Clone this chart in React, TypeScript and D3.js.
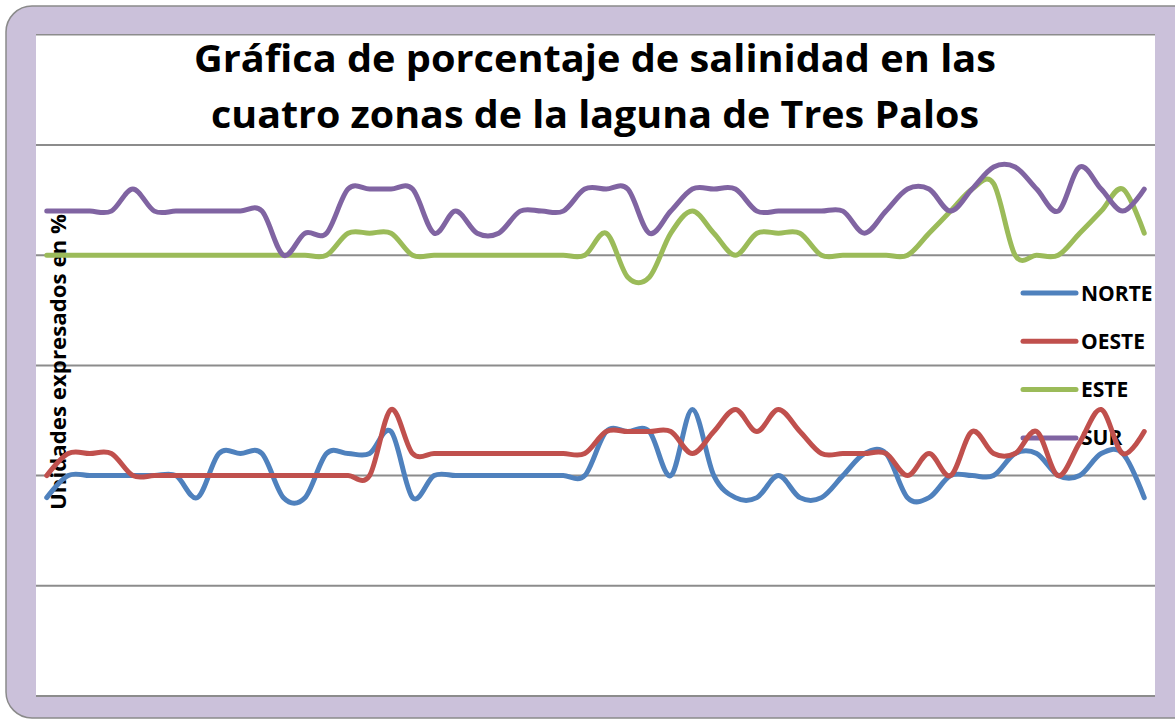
import React, { useEffect, useRef } from 'react';
import * as d3 from 'd3';

// 52 muestras a lo largo de la laguna (sin etiquetas en el eje)
const muestras = d3.range(1, 53);

const norte = [18, 20, 20, 20, 20, 20, 20, 18, 22, 22, 22, 18, 18, 22, 22, 22, 24, 18, 20, 20, 20, 20, 20, 20, 20, 20, 24, 24, 24, 20, 26, 20, 18, 18, 20, 18, 18, 20, 22, 22, 18, 18, 20, 20, 20, 22, 22, 20, 20, 22, 22, 18];
const oeste = [20, 22, 22, 22, 20, 20, 20, 20, 20, 20, 20, 20, 20, 20, 20, 20, 26, 22, 22, 22, 22, 22, 22, 22, 22, 22, 24, 24, 24, 24, 22, 24, 26, 24, 26, 24, 22, 22, 22, 22, 20, 22, 20, 24, 22, 22, 24, 20, 23, 26, 22, 24];
const este = [40, 40, 40, 40, 40, 40, 40, 40, 40, 40, 40, 40, 40, 40, 42, 42, 42, 40, 40, 40, 40, 40, 40, 40, 40, 40, 42, 38, 38, 42, 44, 42, 40, 42, 42, 42, 40, 40, 40, 40, 40, 42, 44, 46, 46.5, 40, 40, 40, 42, 44, 46, 42];
const sur = [44, 44, 44, 44, 46, 44, 44, 44, 44, 44, 44, 40, 42, 42, 46, 46, 46, 46, 42, 44, 42, 42, 44, 44, 44, 46, 46, 46, 42, 44, 46, 46, 46, 44, 44, 44, 44, 44, 42, 44, 46, 46, 44, 46, 48, 48, 46, 44, 48, 46, 44, 46];

const series = [
  { name: 'NORTE', values: norte, color: '#4F81BD' },
  { name: 'OESTE', values: oeste, color: '#C0504D' },
  { name: 'ESTE', values: este, color: '#9BBB59' },
  { name: 'SUR', values: sur, color: '#8064A2' },
];

const yTicks = [0, 10, 20, 30, 40, 50];

const W = 1175;
const H = 722;
const FONT = '"Open Sans", Lato, sans-serif';

export default function App() {
  const svgRef = useRef<SVGSVGElement>(null);

  useEffect(() => {
    if (!svgRef.current) return;
    const svg = d3.select(svgRef.current);
    svg.selectAll('*').remove();

    const plot = { left: 36, right: 1155, top: 145, bottom: 696 };

    const x = d3.scaleBand<number>()
      .domain(muestras)
      .range([plot.left, plot.right]);
    const y = d3.scaleLinear().domain([0, 50]).range([plot.bottom, plot.top]);

    // outer frame
    svg.append('rect')
      .attr('x', 6).attr('y', 6)
      .attr('width', 1200).attr('height', 712)
      .attr('rx', 26)
      .attr('fill', '#CBC1DA')
      .attr('stroke', '#8a8a8a')
      .attr('stroke-width', 1.5);

    svg.append('clipPath').attr('id', 'area')
      .append('rect')
      .attr('x', 36).attr('y', 34)
      .attr('width', 1119).attr('height', 663);

    const g = svg.append('g').attr('clip-path', 'url(#area)');

    g.append('rect')
      .attr('x', 36).attr('y', 34)
      .attr('width', 1119).attr('height', 664)
      .attr('fill', '#fff');

    g.append('line')
      .attr('x1', 36).attr('x2', 1155)
      .attr('y1', 34.5).attr('y2', 34.5)
      .attr('stroke', '#8c8c8c').attr('stroke-width', 2);

    // gridlines
    g.append('g')
      .selectAll('line')
      .data(yTicks)
      .join('line')
      .attr('x1', plot.left).attr('x2', plot.right)
      .attr('y1', d => y(d)).attr('y2', d => y(d))
      .attr('stroke', '#8c8c8c')
      .attr('stroke-width', 2);

    // title
    const titleLines = [
      { text: 'Gráfica de porcentaje de salinidad en las', y: 72, len: 802 },
      { text: 'cuatro zonas de la laguna de Tres Palos', y: 128, len: 768 },
    ];
    titleLines.forEach(t => {
      g.append('text')
        .attr('x', 595).attr('y', t.y)
        .attr('text-anchor', 'middle')
        .attr('font-family', FONT)
        .attr('font-weight', 700)
        .attr('font-size', 38)
        .attr('textLength', t.len)
        .attr('lengthAdjust', 'spacingAndGlyphs')
        .attr('fill', '#000')
        .text(t.text);
    });

    // y axis title
    g.append('text')
      .attr('transform', 'translate(66,362) rotate(-90)')
      .attr('text-anchor', 'middle')
      .attr('font-family', FONT)
      .attr('font-weight', 700)
      .attr('font-size', 21)
      .attr('textLength', 296)
      .attr('lengthAdjust', 'spacingAndGlyphs')
      .text('Unidades expresados en %');

    // legend
    const legend = g.append('g');
    series.forEach((s, i) => {
      const ly = 293 + i * 48.3;
      legend.append('line')
        .attr('x1', 1023).attr('x2', 1076)
        .attr('y1', ly).attr('y2', ly)
        .attr('stroke', s.color)
        .attr('stroke-width', 5)
        .attr('stroke-linecap', 'round');
      legend.append('text')
        .attr('x', 1081).attr('y', ly + 7.5)
        .attr('font-family', FONT)
        .attr('font-weight', 700)
        .attr('font-size', 21)
        .text(s.name);
    });

    // smoothed lines
    const line = d3.line<number>()
      .x((_, i) => (x(muestras[i]) ?? 0) + x.bandwidth() / 2)
      .y(d => y(d))
      .curve(d3.curveCardinal.tension(0));

    series.forEach(s => {
      g.append('path')
        .datum(s.values)
        .attr('fill', 'none')
        .attr('stroke', s.color)
        .attr('stroke-width', 5)
        .attr('stroke-linejoin', 'round')
        .attr('stroke-linecap', 'round')
        .attr('d', line);
    });
  }, []);

  return (
    <svg
      ref={svgRef}
      width={W}
      height={H}
      style={{ position: 'absolute', left: 0, top: 0, display: 'block' }}
    />
  );
}
